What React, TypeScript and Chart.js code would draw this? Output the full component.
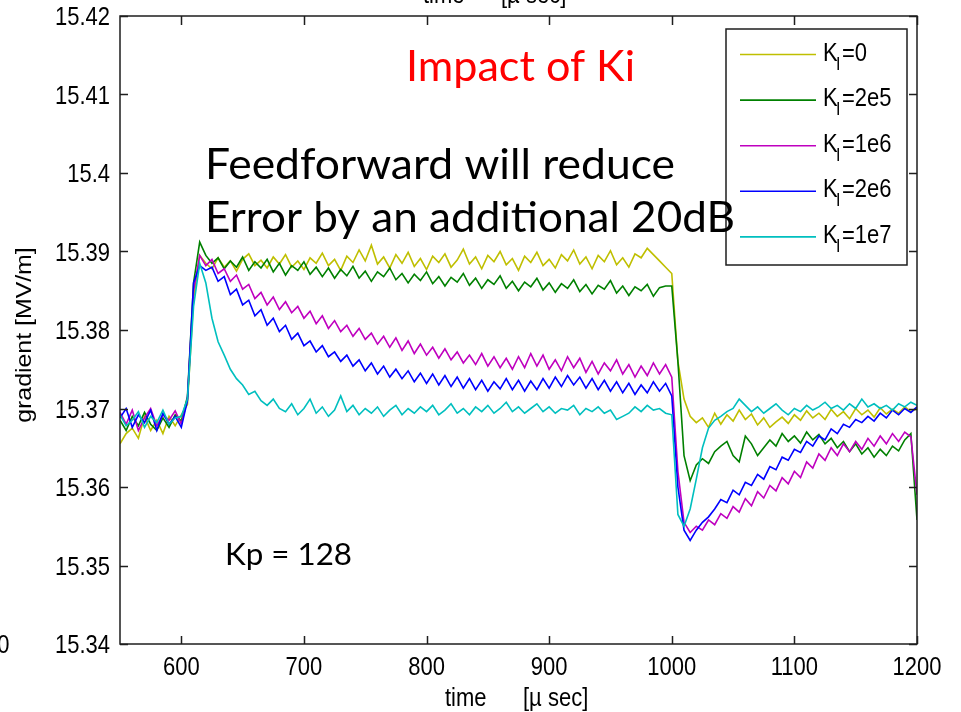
import { useEffect, useRef } from 'react';
import { Chart, registerables } from 'chart.js';

Chart.register(...registerables);

// time axis (µs)
const TIMES = [
  550, 555, 560, 565, 570, 575, 580, 585, 590, 595,
  600, 605, 610, 615, 620, 625, 630, 635, 640, 645,
  650, 655, 660, 665, 670, 675, 680, 685, 690, 695,
  700, 705, 710, 715, 720, 725, 730, 735, 740, 745,
  750, 755, 760, 765, 770, 775, 780, 785, 790, 795,
  800, 805, 810, 815, 820, 825, 830, 835, 840, 845,
  850, 855, 860, 865, 870, 875, 880, 885, 890, 895,
  900, 905, 910, 915, 920, 925, 930, 935, 940, 945,
  950, 955, 960, 965, 970, 975, 980, 985, 990, 995,
  1000, 1005, 1010, 1015, 1020, 1025, 1030, 1035, 1040, 1045,
  1050, 1055, 1060, 1065, 1070, 1075, 1080, 1085, 1090, 1095,
  1100, 1105, 1110, 1115, 1120, 1125, 1130, 1135, 1140, 1145,
  1150, 1155, 1160, 1165, 1170, 1175, 1180, 1185, 1190, 1195,
  1200,
];

const KI_0 = [
  15.3655, 15.3668, 15.3675, 15.3662, 15.3690, 15.3672, 15.3685, 15.3668, 15.3690, 15.3678,
  15.3692, 15.3705, 15.3840, 15.3895, 15.3885, 15.3878, 15.3892, 15.3880, 15.3888, 15.3875,
  15.3890, 15.3897, 15.3882, 15.3889, 15.3879, 15.3893, 15.3884, 15.3896, 15.3880, 15.3888,
  15.3877, 15.3892, 15.3885, 15.3898, 15.3882, 15.3890, 15.3876, 15.3894, 15.3886, 15.3902,
  15.3888, 15.3908, 15.3884, 15.3893, 15.3879, 15.3896, 15.3885, 15.3899, 15.3881, 15.3891,
  15.3877, 15.3894, 15.3886, 15.3897, 15.3880, 15.3889, 15.3903, 15.3884, 15.3893, 15.3878,
  15.3895, 15.3887, 15.3900, 15.3883, 15.3891, 15.3876, 15.3894, 15.3886, 15.3899, 15.3882,
  15.3890, 15.3879, 15.3896, 15.3888, 15.3902, 15.3884, 15.3893, 15.3878, 15.3895, 15.3887,
  15.3901, 15.3883, 15.3892, 15.3880, 15.3897, 15.3892, 15.3904, 15.3896, 15.3888, 15.3880,
  15.3872, 15.3760, 15.3712, 15.3690, 15.3682, 15.3688, 15.3676, 15.3694, 15.3680, 15.3692,
  15.3684, 15.3698, 15.3686, 15.3693, 15.3679, 15.3688, 15.3676, 15.3683, 15.3689, 15.3681,
  15.3692, 15.3685, 15.3697, 15.3688, 15.3694, 15.3686, 15.3699, 15.3690, 15.3696, 15.3687,
  15.3700, 15.3692, 15.3698, 15.3689, 15.3701, 15.3693, 15.3699, 15.3694, 15.3702, 15.3696,
  15.3700,
];

const KI_2E5 = [
  15.3685, 15.3672, 15.3690, 15.3678, 15.3695, 15.3680, 15.3672, 15.3688, 15.3676, 15.3692,
  15.3684, 15.3715, 15.3860, 15.3912, 15.3895, 15.3885, 15.3892, 15.3878, 15.3888, 15.3880,
  15.3893, 15.3876, 15.3887, 15.3879, 15.3890, 15.3874, 15.3885, 15.3870, 15.3882, 15.3876,
  15.3887, 15.3871, 15.3880, 15.3868, 15.3879, 15.3866, 15.3877, 15.3869, 15.3881, 15.3866,
  15.3875, 15.3862, 15.3874, 15.3868, 15.3879, 15.3864, 15.3872, 15.3860, 15.3871, 15.3863,
  15.3874, 15.3859, 15.3868, 15.3856, 15.3867, 15.3861, 15.3872, 15.3857, 15.3866, 15.3853,
  15.3864, 15.3858, 15.3869, 15.3853, 15.3862, 15.3850, 15.3861, 15.3855, 15.3866, 15.3851,
  15.3860, 15.3848, 15.3859, 15.3853, 15.3864, 15.3849, 15.3858, 15.3846, 15.3857, 15.3852,
  15.3863, 15.3847, 15.3856, 15.3844, 15.3855, 15.3850, 15.3858, 15.3843, 15.3854, 15.3856,
  15.3856, 15.3760, 15.3640, 15.3608, 15.3628, 15.3636, 15.3630, 15.3645, 15.3652, 15.3658,
  15.3640, 15.3632, 15.3665, 15.3655, 15.3640, 15.3650, 15.3660, 15.3652, 15.3668, 15.3658,
  15.3665, 15.3656, 15.3670, 15.3660, 15.3667, 15.3655, 15.3662, 15.3650, 15.3658, 15.3645,
  15.3655, 15.3642, 15.3650, 15.3638, 15.3648, 15.3640, 15.3652, 15.3646, 15.3660, 15.3668,
  15.3558,
];

const KI_1E6 = [
  15.3695, 15.3680, 15.3698, 15.3672, 15.3688, 15.3700, 15.3678, 15.3692, 15.3685, 15.3697,
  15.3680, 15.3712, 15.3850, 15.3895, 15.3882, 15.3890, 15.3872, 15.3878, 15.3862, 15.3870,
  15.3852, 15.3858, 15.3840, 15.3848, 15.3832, 15.3842, 15.3826, 15.3836, 15.3822, 15.3830,
  15.3815, 15.3824, 15.3808, 15.3818, 15.3802, 15.3812, 15.3798, 15.3806, 15.3792, 15.3802,
  15.3788, 15.3796, 15.3782, 15.3792, 15.3778, 15.3790, 15.3774, 15.3786, 15.3770, 15.3782,
  15.3768, 15.3778, 15.3764, 15.3776, 15.3762, 15.3772, 15.3758, 15.3768, 15.3756, 15.3770,
  15.3754, 15.3766, 15.3752, 15.3764, 15.3750, 15.3766, 15.3752, 15.3770, 15.3754, 15.3768,
  15.3750, 15.3762, 15.3748, 15.3766, 15.3752, 15.3764, 15.3746, 15.3760, 15.3744, 15.3758,
  15.3748, 15.3762, 15.3744, 15.3756, 15.3740, 15.3754, 15.3742, 15.3758, 15.3744, 15.3756,
  15.3740, 15.3620, 15.3555, 15.3542, 15.3550, 15.3545, 15.3558, 15.3552, 15.3566, 15.3560,
  15.3575, 15.3568, 15.3585, 15.3576, 15.3594, 15.3586, 15.3602, 15.3595, 15.3612, 15.3604,
  15.3620, 15.3612, 15.3632, 15.3624, 15.3642, 15.3634, 15.3650, 15.3640, 15.3655, 15.3645,
  15.3658, 15.3648, 15.3662, 15.3652, 15.3665, 15.3655, 15.3668, 15.3658, 15.3670, 15.3664,
  15.3590,
];

const KI_2E6 = [
  15.3688, 15.3700, 15.3676, 15.3692, 15.3682, 15.3698, 15.3672, 15.3694, 15.3680, 15.3690,
  15.3676, 15.3710, 15.3860, 15.3882, 15.3876, 15.3880, 15.3862, 15.3868, 15.3845, 15.3852,
  15.3832, 15.3838, 15.3818, 15.3826, 15.3806, 15.3815, 15.3798, 15.3806, 15.3788, 15.3796,
  15.3780, 15.3786, 15.3772, 15.3780, 15.3766, 15.3772, 15.3760, 15.3768, 15.3754, 15.3762,
  15.3748, 15.3758, 15.3744, 15.3754, 15.3740, 15.3750, 15.3738, 15.3748, 15.3734, 15.3745,
  15.3732, 15.3744, 15.3730, 15.3742, 15.3728, 15.3740, 15.3726, 15.3738, 15.3724, 15.3736,
  15.3722, 15.3734, 15.3725, 15.3738, 15.3724, 15.3736, 15.3722, 15.3735, 15.3724, 15.3738,
  15.3726, 15.3740, 15.3728, 15.3742, 15.3730, 15.3740, 15.3726, 15.3738, 15.3724, 15.3736,
  15.3722, 15.3734, 15.3720, 15.3732, 15.3718, 15.3730, 15.3720, 15.3734, 15.3722, 15.3732,
  15.3716, 15.3600, 15.3545, 15.3532, 15.3545, 15.3555, 15.3562, 15.3572, 15.3584, 15.3580,
  15.3596, 15.3590, 15.3606, 15.3602, 15.3616, 15.3610, 15.3626, 15.3622, 15.3638, 15.3634,
  15.3648, 15.3644, 15.3658, 15.3652, 15.3665, 15.3660, 15.3674, 15.3668, 15.3680, 15.3676,
  15.3686, 15.3682, 15.3690, 15.3684, 15.3694, 15.3688, 15.3698, 15.3692, 15.3700, 15.3695,
  15.3702,
];

const KI_1E7 = [
  15.3692, 15.3678, 15.3685, 15.3696, 15.3676, 15.3690, 15.3682, 15.3698, 15.3680, 15.3688,
  15.3690, 15.3712, 15.3830, 15.3885, 15.3860, 15.3815, 15.3785, 15.3768, 15.3750, 15.3738,
  15.3730, 15.3718, 15.3722, 15.3710, 15.3704, 15.3712, 15.3700, 15.3696, 15.3706, 15.3692,
  15.3700, 15.3712, 15.3694, 15.3702, 15.3690, 15.3698, 15.3716, 15.3696, 15.3704, 15.3692,
  15.3700, 15.3694, 15.3702, 15.3690, 15.3698, 15.3704, 15.3692, 15.3700, 15.3694, 15.3702,
  15.3696, 15.3704, 15.3692, 15.3698, 15.3706, 15.3694, 15.3700, 15.3692, 15.3702, 15.3696,
  15.3704, 15.3694, 15.3700, 15.3708, 15.3696, 15.3702, 15.3694, 15.3700, 15.3706, 15.3696,
  15.3702, 15.3694, 15.3700, 15.3698, 15.3704, 15.3692, 15.3700, 15.3696, 15.3702, 15.3694,
  15.3698, 15.3686, 15.3690, 15.3694, 15.3702, 15.3696, 15.3704, 15.3698, 15.3700, 15.3694,
  15.3692, 15.3565, 15.3550, 15.3572, 15.3610, 15.3650, 15.3675, 15.3685, 15.3690, 15.3696,
  15.3700, 15.3712, 15.3704, 15.3696, 15.3702, 15.3694, 15.3700, 15.3706, 15.3698, 15.3692,
  15.3700, 15.3696, 15.3704, 15.3698, 15.3702, 15.3708, 15.3700, 15.3704, 15.3698, 15.3706,
  15.3700, 15.3712, 15.3702, 15.3706, 15.3700, 15.3704, 15.3698, 15.3706, 15.3702, 15.3708,
  15.3704,
];

const SERIES_VALUES = [KI_0, KI_2E5, KI_1E6, KI_2E6, KI_1E7];
const LEGEND_SUFFIX = ['=0', '=2e5', '=1e6', '=2e6', '=1e7'];
const COLORS = ['#BFBF00', '#008000', '#BF00BF', '#0000FF', '#00BFBF'];

const X_TICKS = [600, 700, 800, 900, 1000, 1100, 1200];
const Y_TICKS = [15.34, 15.35, 15.36, 15.37, 15.38, 15.39, 15.4, 15.41, 15.42];
const Y_TICK_LABELS = ['15.34', '15.35', '15.36', '15.37', '15.38', '15.39', '15.4', '15.41', '15.42'];

const SY = 1.13;
const MFONT = '22px "Liberation Sans", Arial, sans-serif';
const AXIS_COLOR = '#1e1e1e';

function mtext(ctx: CanvasRenderingContext2D, s: string, x: number, y: number, align: CanvasTextAlign, font = MFONT) {
  ctx.save();
  ctx.translate(x, y);
  ctx.scale(1, SY);
  ctx.font = font;
  ctx.fillStyle = '#000';
  ctx.textAlign = align;
  ctx.textBaseline = 'alphabetic';
  ctx.fillText(s, 0, 0);
  ctx.restore();
}

function fitText(ctx: CanvasRenderingContext2D, s: string, left: number, baseline: number, width: number, size: number, color: string) {
  ctx.save();
  ctx.font = `${size}px Lato, "Open Sans", sans-serif`;
  const w = ctx.measureText(s).width;
  ctx.translate(left, baseline);
  ctx.scale(width / w, 1);
  ctx.fillStyle = color;
  ctx.textAlign = 'left';
  ctx.textBaseline = 'alphabetic';
  ctx.fillText(s, 0, 0);
  ctx.restore();
}

const decor = {
  id: 'decor',
  afterDraw(chart: any) {
    const ctx: CanvasRenderingContext2D = chart.ctx;
    const { left, right, top, bottom } = chart.chartArea;
    const xs = chart.scales.x;
    const ys = chart.scales.y;

    // axes box
    ctx.save();
    ctx.strokeStyle = AXIS_COLOR;
    ctx.lineWidth = 1.5;
    ctx.strokeRect(left, top, right - left, bottom - top);
    ctx.beginPath();
    for (const t of X_TICKS) {
      const px = Math.round(xs.getPixelForValue(t)) + 0.5;
      ctx.moveTo(px, bottom); ctx.lineTo(px, bottom - 8);
      ctx.moveTo(px, top); ctx.lineTo(px, top + 9);
    }
    for (const v of Y_TICKS) {
      const py = Math.round(ys.getPixelForValue(v)) + 0.5;
      ctx.moveTo(left, py); ctx.lineTo(left + 8, py);
      ctx.moveTo(right, py); ctx.lineTo(right - 8, py);
    }
    ctx.stroke();
    ctx.restore();

    // tick labels
    X_TICKS.forEach((t) => mtext(ctx, String(t), xs.getPixelForValue(t), 675, 'center'));
    Y_TICKS.forEach((v, i) => mtext(ctx, Y_TICK_LABELS[i], 110, ys.getPixelForValue(v) + 9, 'right'));

    // axis titles
    mtext(ctx, 'time', 445, 706, 'left');
    mtext(ctx, '[\u00B5 sec]', 523, 706, 'left');
    mtext(ctx, 'time', 423, 3, 'left');
    mtext(ctx, '[\u00B5 sec]', 501, 3, 'left');
    mtext(ctx, '0', 9.5, 653, 'right');

    ctx.save();
    ctx.translate(31, 335);
    ctx.scale(1, SY);
    ctx.rotate(-Math.PI / 2);
    ctx.font = MFONT;
    ctx.fillStyle = '#000';
    ctx.textAlign = 'center';
    ctx.textBaseline = 'alphabetic';
    ctx.fillText('gradient [MV/m]', 0, 0);
    ctx.restore();

    // legend
    ctx.save();
    ctx.fillStyle = '#fff';
    ctx.fillRect(726, 29, 181, 236);
    ctx.strokeStyle = AXIS_COLOR;
    ctx.lineWidth = 1.5;
    ctx.strokeRect(726, 29, 181, 236);
    ctx.restore();
    chart.data.datasets.forEach((ds: any, i: number) => {
      const y = 54.5 + i * 45.6;
      ctx.save();
      ctx.strokeStyle = ds.borderColor;
      ctx.lineWidth = 1.6;
      ctx.beginPath();
      ctx.moveTo(740, y);
      ctx.lineTo(816, y);
      ctx.stroke();
      ctx.restore();
      mtext(ctx, 'K', 823, y + 6, 'left');
      mtext(ctx, 'I', 836, y + 15, 'left', '16px "Liberation Sans", Arial, sans-serif');
      mtext(ctx, LEGEND_SUFFIX[i], 842, y + 6, 'left');
    });

    // slide annotations
    fitText(ctx, 'Impact of Ki', 406, 81, 229, 42, '#FF0000');
    fitText(ctx, 'Feedforward will reduce', 205, 179, 470, 43, '#000');
    fitText(ctx, 'Error by an additional 20dB', 205, 232, 530, 43, '#000');
    fitText(ctx, 'Kp = 128', 225, 565, 127, 31, '#000');
  },
};

export default function App() {
  const ref = useRef<HTMLCanvasElement>(null);
  useEffect(() => {
    document.body.style.margin = '0';
    const chart = new Chart(ref.current as HTMLCanvasElement, {
      type: 'line',
      data: {
        datasets: SERIES_VALUES.map((vals, i) => ({
          label: 'K_I' + LEGEND_SUFFIX[i],
          data: TIMES.map((t, j) => ({ x: t, y: vals[j] })),
          borderColor: COLORS[i],
          backgroundColor: COLORS[i],
          borderWidth: 1.6,
          pointRadius: 0,
          fill: false,
          tension: 0,
          order: SERIES_VALUES.length - i,
        })),
      },
      options: {
        responsive: false,
        animation: false,
        devicePixelRatio: 1,
        events: [],
        layout: { padding: { left: 120, top: 16, right: 44, bottom: 68 } },
        scales: {
          x: { type: 'linear', min: 550, max: 1200, display: false },
          y: { type: 'linear', min: 15.34, max: 15.42, display: false },
        },
        plugins: { legend: { display: false }, tooltip: { enabled: false } },
      },
      plugins: [decor],
    } as any);
    return () => chart.destroy();
  }, []);
  return (
    <div style={{ position: 'absolute', left: 0, top: 0, width: 961, height: 712, background: '#fff' }}>
      <canvas ref={ref} width={961} height={712} style={{ display: 'block' }} />
    </div>
  );
}
